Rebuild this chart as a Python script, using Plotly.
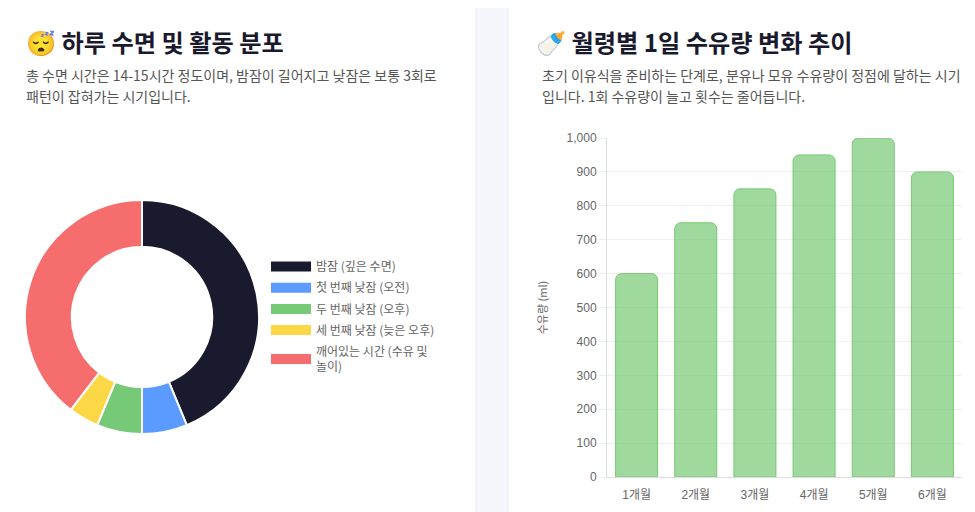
import plotly.graph_objects as go

# the page puts the plot 8px in from the top-left corner, so the figure is
# 8px smaller and all reference pixel positions are shifted by that amount
OFF = 8
W, H = 975 - OFF, 512 - OFF

# 하루 수면 및 활동 분포 (시간)
sleep_labels = ["밤잠 (깊은 수면)", "첫 번째 낮잠 (오전)", "두 번째 낮잠 (오후)",
                "세 번째 낮잠 (늦은 오후)", "깨어있는 시간 (수유 및<br>놀이)"]
sleep_hours = [10.5, 1.5, 1.5, 1, 9.5]
sleep_colors = ["#1a1a2e", "#5b9bff", "#76c976", "#fcd846", "#f56d6d"]

# 월령별 1일 수유량 (ml)
months = ["1개월", "2개월", "3개월", "4개월", "5개월", "6개월"]
feed_ml = [600, 750, 850, 950, 1000, 900]

FONT = "Noto Sans CJK KR, Noto Sans, sans-serif"
TICKFONT = "Liberation Sans, Noto Sans CJK KR, sans-serif"


def px(x):
    return (x - OFF) / W


def py(y):
    return 1 - (y - OFF) / H


def card(x0, y0, x1, y1, r):
    # rounded rectangle path in paper coords
    rx, ry = r / W, r / H
    a, b, c, d = px(x0), py(y1), px(x1), py(y0)
    return (f"M{a+rx},{d} L{c-rx},{d} Q{c},{d} {c},{d-ry} L{c},{b+ry} Q{c},{b} {c-rx},{b} "
            f"L{a+rx},{b} Q{a},{b} {a},{b+ry} L{a},{d-ry} Q{a},{d} {a+rx},{d} Z")


fig = go.Figure()

fig.add_trace(go.Pie(
    labels=sleep_labels, values=sleep_hours, hole=0.6, sort=False,
    direction="clockwise", rotation=0, textinfo="none",
    marker=dict(colors=sleep_colors, line=dict(color="white", width=2)),
    domain=dict(x=[px(25), px(259)], y=[py(434), py(200)]),
    showlegend=False,
))

# legend entries for the donut (wide boxes like the original)
for lab, col in zip(sleep_labels, sleep_colors):
    fig.add_trace(go.Scatter(
        x=[None], y=[None], mode="lines", name=lab, legendgroup=lab,
        line=dict(color=col, width=10), xaxis="x2", yaxis="y2",
    ))

fig.add_trace(go.Bar(
    x=months, y=feed_ml, width=0.71,
    marker=dict(color="rgba(119,201,116,0.7)", line=dict(color="rgb(119,201,116)", width=1),
                cornerradius=6),
    showlegend=False,
))

fig.update_layout(
    width=W, height=H, margin=dict(l=0, r=0, t=0, b=0, autoexpand=False),
    paper_bgcolor="#f6f6fd", plot_bgcolor="white",
    font=dict(family=FONT, color="#555"),
    xaxis=dict(domain=[px(607), px(962)], showgrid=False, showline=True, linecolor="#dddddd",
               tickfont=dict(family=TICKFONT, size=12, color="#666"),
               ticks="outside", ticklen=7, tickcolor="rgba(0,0,0,0)", fixedrange=True,
               automargin=False),
    yaxis=dict(domain=[py(477), py(138)], range=[0, 1000], dtick=100, tickformat=",",
               gridcolor="#efefef", showline=True, linecolor="#dddddd",
               ticks="outside", ticklen=7, tickcolor="#efefef",
               tickfont=dict(family=TICKFONT, size=12, color="#666"),
               title=dict(text="수유량 (ml)", font=dict(size=11, color="#666"), standoff=16),
               zeroline=False, automargin=False),
    xaxis2=dict(domain=[0, 0.01], visible=False, automargin=False),
    yaxis2=dict(domain=[0, 0.01], visible=False, automargin=False),
    legend=dict(x=px(266), y=py(252), xanchor="left", yanchor="top",
                bgcolor="rgba(0,0,0,0)", itemwidth=40, tracegroupgap=2.2,
                font=dict(size=12, color="#666", family=FONT)),
    shapes=[
        dict(type="path", path=card(-30, -12, 476, 540, 16), xref="paper", yref="paper",
             fillcolor="white", line=dict(color="#ececf4", width=1), layer="below"),
        dict(type="path", path=card(508, -12, 1010, 540, 16), xref="paper", yref="paper",
             fillcolor="white", line=dict(color="#ececf4", width=1), layer="below"),
    ],
    annotations=[
        dict(text="😴 <b>하루 수면 및 활동 분포</b>", x=px(24), y=py(42), xref="paper", yref="paper",
             xanchor="left", yanchor="middle", showarrow=False,
             font=dict(size=24.2, color="#1a1a2e")),
        dict(text="총 수면 시간은 14-15시간 정도이며, 밤잠이 길어지고 낮잠은 보통 3회로",
             x=px(24), y=py(75), xref="paper", yref="paper", xanchor="left", yanchor="middle",
             showarrow=False, font=dict(size=14, color="#555")),
        dict(text="패턴이 잡혀가는 시기입니다.",
             x=px(24), y=py(96), xref="paper", yref="paper", xanchor="left", yanchor="middle",
             showarrow=False, font=dict(size=14, color="#555")),
        dict(text="🍼 <b>월령별 1일 수유량 변화 추이</b>", x=px(534), y=py(42), xref="paper", yref="paper",
             xanchor="left", yanchor="middle", showarrow=False,
             font=dict(size=24.2, color="#1a1a2e")),
        dict(text="초기 이유식을 준비하는 단계로, 분유나 모유 수유량이 정점에 달하는 시기",
             x=px(540), y=py(75), xref="paper", yref="paper", xanchor="left", yanchor="middle",
             showarrow=False, font=dict(size=14, color="#555")),
        dict(text="입니다. 1회 수유량이 늘고 횟수는 줄어듭니다.",
             x=px(540), y=py(96), xref="paper", yref="paper", xanchor="left", yanchor="middle",
             showarrow=False, font=dict(size=14, color="#555")),
    ],
)

fig.write_html("out.html")
